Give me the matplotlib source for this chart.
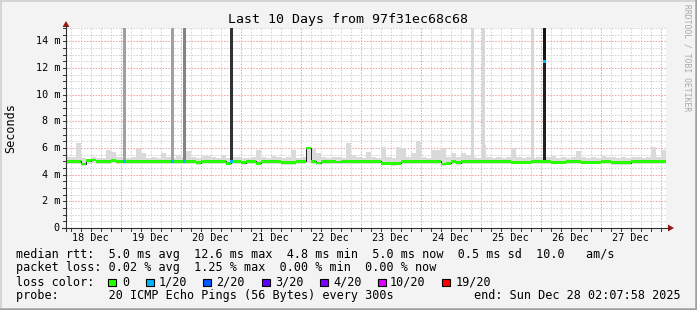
import matplotlib
matplotlib.use("Agg")
import matplotlib.pyplot as plt
from matplotlib.patches import Rectangle, Polygon
from matplotlib.lines import Line2D
from matplotlib.transforms import blended_transform_factory

plt.rcParams['font.family'] = ['DejaVu Sans Mono']

W, H = 697, 310

# time in days since 18 Dec 00:00, one sample every 2 hours (from 02:00)
t_start, t_end = 0.0889, 10.0889
day_labels = ["18 Dec", "19 Dec", "20 Dec", "21 Dec", "22 Dec",
              "23 Dec", "24 Dec", "25 Dec", "26 Dec", "27 Dec"]

# median rtt (ms)
median = [
    5.0, 5.0, 5.0, 4.8, 5.05, 5.1, 5.0, 5.0, 5.0, 5.05, 5.0, 5.0,
    5.0, 5.0, 5.0, 5.0, 5.0, 5.0, 5.0, 5.0, 5.0, 5.0, 5.0, 5.0,
    5.0, 5.0, 4.9, 5.0, 5.0, 5.0, 5.0, 5.0, 4.85, 5.0, 5.0, 4.9,
    5.0, 5.0, 4.85, 5.0, 5.0, 5.0, 5.0, 4.93, 4.93, 4.93, 5.0, 5.0,
    6.0, 5.0, 4.87, 5.0, 5.0, 5.0, 4.95, 5.0, 5.0, 5.0, 5.0, 5.0,
    5.0, 5.0, 5.0, 4.85, 4.85, 4.82, 4.85, 5.0, 5.0, 5.0, 5.0, 5.0,
    5.0, 5.0, 5.0, 4.8, 4.85, 5.0, 4.9, 5.0, 5.0, 5.0, 5.0, 5.0,
    5.0, 5.0, 5.0, 5.0, 5.0, 4.92, 4.92, 4.92, 4.92, 5.0, 5.0, 5.0,
    5.0, 4.92, 4.92, 4.92, 5.0, 5.0, 5.0, 4.92, 4.92, 4.92, 4.92, 5.0,
    5.0, 4.9, 4.9, 4.9, 4.9, 5.0, 5.0, 5.0, 5.0, 5.0, 5.0, 5.0,
]
# smoke upper edge (slowest ping, ms)
smoke_hi = [
    5.3, 5.3, 6.4, 5.25, 5.2, 5.3, 5.25, 5.25, 5.85, 5.7, 5.3, 5.25,
    5.25, 5.3, 5.9, 5.6, 5.25, 5.3, 5.25, 5.6, 5.3, 5.25, 5.45, 5.3,
    5.8, 5.3, 5.25, 5.4, 5.4, 5.3, 5.25, 5.5, 5.25, 5.3, 5.35, 5.25,
    5.25, 5.3, 5.85, 5.3, 5.25, 5.4, 5.3, 5.25, 5.3, 5.85, 5.25, 5.3,
    6.1, 5.9, 5.6, 5.3, 5.25, 5.3, 5.3, 5.25, 6.4, 5.5, 5.3, 5.25,
    5.7, 5.3, 5.25, 6.1, 5.3, 5.25, 6.1, 6.0, 5.3, 5.6, 6.5, 5.3,
    5.25, 5.85, 5.85, 6.0, 5.3, 5.6, 5.3, 5.6, 5.5, 5.3, 5.25, 6.2,
    5.3, 5.25, 5.3, 5.25, 5.3, 6.0, 5.3, 5.25, 5.3, 5.25, 5.3, 5.25,
    5.3, 5.4, 5.25, 5.3, 5.25, 5.3, 5.75, 5.3, 5.25, 5.3, 5.25, 5.4,
    5.3, 5.3, 5.25, 5.3, 5.25, 5.3, 5.3, 5.25, 5.3, 6.1, 5.3, 5.85,
]
# smoke lower edge (fastest ping, ms)
smoke_lo = [
    4.8, 4.8, 4.8, 4.65, 4.8, 4.85, 4.8, 4.8, 4.8, 4.85, 4.8, 4.8,
    4.8, 4.8, 4.8, 4.8, 4.8, 4.8, 4.8, 4.8, 4.8, 4.8, 4.8, 4.8,
    4.8, 4.8, 4.75, 4.8, 4.8, 4.8, 4.8, 4.8, 4.7, 4.8, 4.8, 4.75,
    4.8, 4.8, 4.7, 4.8, 4.8, 4.8, 4.8, 4.75, 4.75, 4.75, 4.8, 4.8,
    4.85, 4.8, 4.72, 4.8, 4.8, 4.8, 4.8, 4.8, 4.8, 4.8, 4.8, 4.8,
    4.8, 4.8, 4.8, 4.7, 4.7, 4.68, 4.7, 4.8, 4.8, 4.8, 4.8, 4.8,
    4.8, 4.8, 4.8, 4.65, 4.7, 4.8, 4.75, 4.8, 4.8, 4.8, 4.8, 4.8,
    4.8, 4.8, 4.8, 4.8, 4.8, 4.77, 4.77, 4.77, 4.77, 4.8, 4.8, 4.8,
    4.8, 4.77, 4.77, 4.77, 4.8, 4.8, 4.8, 4.77, 4.77, 4.77, 4.77, 4.8,
    4.8, 4.75, 4.75, 4.75, 4.75, 4.8, 4.8, 4.8, 4.8, 4.8, 4.8, 4.8,
]

# short bursts of slow pings
spike_day = [1.072, 1.872, 2.072, 2.855, 6.863, 7.055, 7.863, 8.063]
spike_top = [16.0, 16.0, 16.0, 16.0, 16.0, 16.0, 16.0, 16.0]
spike_slow = [3, 3, 4, 7, 1, 1, 1, 8]      # pings (of 20) that were slow
spike_loss = [1, 1, 1, 1, 0, 0, 0, 1]      # lost pings (of 20)
spike_med = [5.0, 5.0, 5.0, 5.0, 5.0, 5.0, 5.0, 12.5]

loss_labels = ["0", "1/20", "2/20", "3/20", "4/20", "10/20", "19/20"]
loss_colors = ["#26ff00", "#00b8ff", "#0059ff", "#5e00ff", "#7e00ff", "#dd00ff", "#ff0000"]

line_rtt = "median rtt:  5.0 ms avg  12.6 ms max  4.8 ms min  5.0 ms now  0.5 ms sd  10.0   am/s"
line_loss = "packet loss: 0.02 % avg  1.25 % max  0.00 % min  0.00 % now"
line_probe = "probe:       20 ICMP Echo Pings (56 Bytes) every 300s"
end_text = "end: Sun Dec 28 02:07:58 2025"
title = "Last 10 Days from 97f31ec68c68"


def fx(x):
    return x / W


def fy(y):
    return 1 - y / H


def shade(n):
    g = int(215 - 27.5 * (n - 1))
    return "#%02x%02x%02x" % (g, g, g)


fig = plt.figure(figsize=(W / 100, H / 100), dpi=100, facecolor="#f3f3f3")
ax = fig.add_axes([fx(66), fy(228), 600 / W, 200 / H])
ax.set_xlim(t_start, t_end)
ax.set_ylim(0, 15)
ax.set_facecolor("white")
for s in ax.spines.values():
    s.set_visible(False)
ax.set_xticks([])
ax.set_yticks([])

# grid
dot = (0, (1.4, 1.4))
for k in range(1, 61):
    d = k / 6
    if d > t_end:
        break
    c = "#f0a0a0" if k % 6 == 0 else "#d2d2d2"
    ax.axvline(d, color=c, lw=0.75, ls=dot, zorder=0)
for k in range(1, 31):
    v = k * 0.5
    c = "#f0a0a0" if k % 4 == 0 else "#d2d2d2"
    ax.axhline(v, color=c, lw=0.75, ls=dot, zorder=0)

# smoke
edges = [(k + 1) / 12 for k in range(len(median) + 1)]
ax.fill_between(edges, smoke_lo + smoke_lo[-1:], smoke_hi + smoke_hi[-1:],
                step="post", color="#dadada", lw=0, zorder=1)
for d, top, n in zip(spike_day, spike_top, spike_slow):
    ax.bar(d, top - 5.0, bottom=5.0, width=1 / 20, color=shade(n), lw=0, zorder=2)

# median line
ax.step(edges, median + median[-1:], where="post", color="#202020", lw=0.7, zorder=3)
for d, m in zip(spike_day, spike_med):
    if m != 5.0:
        ax.bar(d, m - 5.0, bottom=5.0, width=1 / 20, color="#202020", lw=0, zorder=3)
lo = [m - 0.1 for m in median]
hi = [m + 0.1 for m in median]
ax.fill_between(edges, lo + lo[-1:], hi + hi[-1:], step="post",
                color=loss_colors[0], lw=0, zorder=4)
for d, m, l in zip(spike_day, spike_med, spike_loss):
    if l > 0:
        ax.bar(d, 0.2, bottom=m - 0.1, width=1 / 20, color=loss_colors[l], lw=0, zorder=5)

# tick labels
ty = blended_transform_factory(ax.transAxes, ax.transData)
for v in range(0, 15, 2):
    lab = "0" if v == 0 else "%d m" % v
    ax.text(-0.01, v, lab, transform=ty, ha="right", va="center", fontsize=7.3)
tx = blended_transform_factory(ax.transData, ax.transAxes)
for i, lab in enumerate(day_labels):
    ax.text(i + 0.5, -0.05, lab, transform=tx, ha="center", va="center", fontsize=7.3)

# axes, ticks and arrows
ax_col = "#303030"
fig.add_artist(Line2D([fx(62), fx(668)], [fy(228), fy(228)], color=ax_col, lw=0.8))
fig.add_artist(Line2D([fx(66), fx(66)], [fy(231), fy(26)], color=ax_col, lw=0.8))
for k in range(31):
    y = 228 - k * 0.5 * 200 / 15
    fig.add_artist(Line2D([fx(63), fx(66)], [fy(y), fy(y)], color=ax_col, lw=0.7))
for k in range(1, 61):
    x = 66 + (k / 6 - t_start) * 60
    if x > 666:
        break
    fig.add_artist(Line2D([fx(x), fx(x)], [fy(228), fy(231)], color=ax_col, lw=0.7))
arrow_col = "#9b1616"
fig.add_artist(Polygon([(fx(668), fy(224.5)), (fx(668), fy(231.5)), (fx(674), fy(228))],
                       closed=True, color=arrow_col, lw=0))
fig.add_artist(Polygon([(fx(62.5), fy(27)), (fx(69.5), fy(27)), (fx(66), fy(21))],
                       closed=True, color=arrow_col, lw=0))

# titles
fig.text(0.5, fy(19), title, ha="center", va="center", fontsize=9.5)
fig.text(fx(11), fy(128), "Seconds", rotation=90, ha="center", va="center", fontsize=8.5)
fig.text(fx(687), fy(4), "RRDTOOL / TOBI OETIKER", rotation=270, ha="center", va="top",
         fontsize=5.8, color="#a8a8a8")

# legend
fig.text(fx(15.5), fy(254.5), line_rtt, ha="left", va="center", fontsize=8.5)
fig.text(fx(15.5), fy(268), line_loss, ha="left", va="center", fontsize=8.5)
fig.text(fx(15.5), fy(282), "loss color:", ha="left", va="center", fontsize=8.5)
box_x = [108, 146, 203, 262, 320, 378, 442]
lab_x = [122, 159, 216, 275, 333, 390, 456]
for bx, lx, lab, c in zip(box_x, lab_x, loss_labels, loss_colors):
    fig.add_artist(Rectangle((fx(bx), fy(286)), 7.5 / W, 7.5 / H, facecolor=c,
                             edgecolor="black", lw=0.8))
    fig.text(fx(lx), fy(282), lab, ha="left", va="center", fontsize=8.5)
fig.text(fx(15.5), fy(295.5), line_probe, ha="left", va="center", fontsize=8.5)
fig.text(fx(681), fy(295.5), end_text, ha="right", va="center", fontsize=8.5)

# frame
fig.add_artist(Line2D([0, 1], [fy(0.5), fy(0.5)], color="#d0d0d0", lw=1.2))
fig.add_artist(Line2D([fx(0.5), fx(0.5)], [0, 1], color="#d0d0d0", lw=1.2))
fig.add_artist(Line2D([0, 1], [fy(308.8), fy(308.8)], color="#a0a0a0", lw=1.8))
fig.add_artist(Line2D([fx(695.8), fx(695.8)], [0, 1], color="#a0a0a0", lw=1.8))

fig.savefig("out.png", dpi=100, facecolor=fig.get_facecolor())
